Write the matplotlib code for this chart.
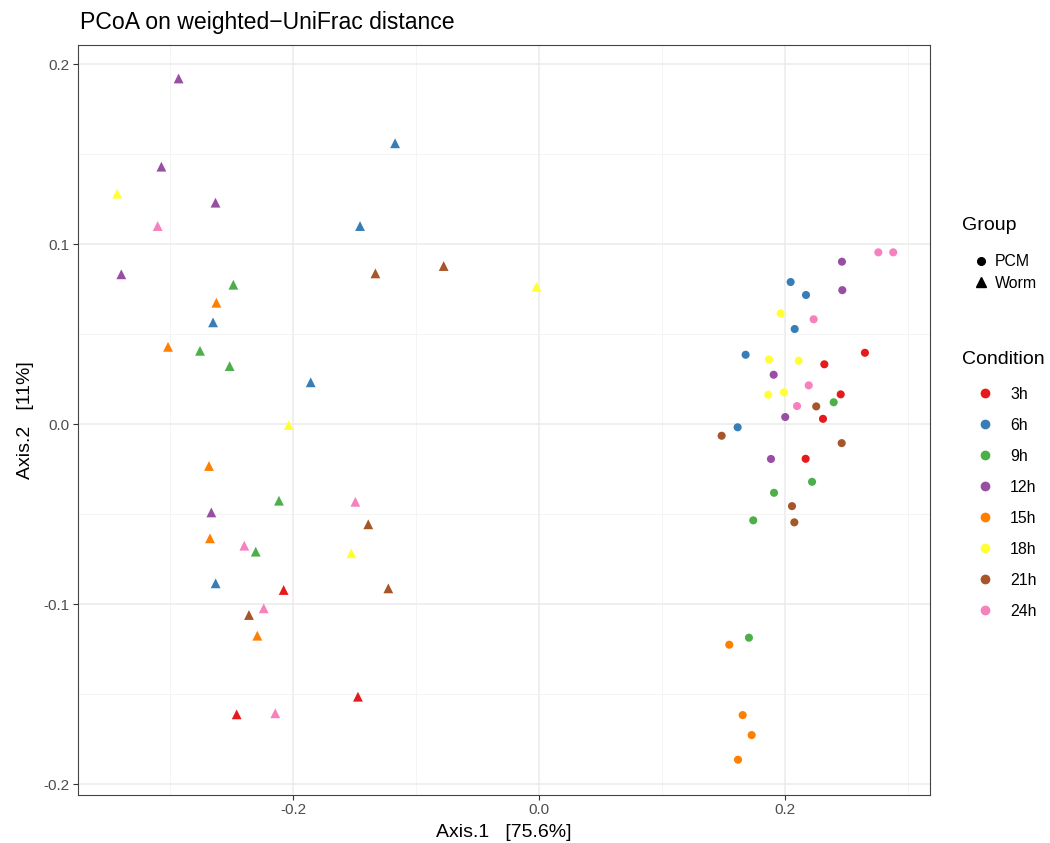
import matplotlib
matplotlib.use("Agg")
import matplotlib.pyplot as plt
from matplotlib.lines import Line2D
from matplotlib.ticker import MultipleLocator

plt.rcParams['font.family'] = ['Liberation Sans', 'DejaVu Sans']
plt.rcParams['axes.unicode_minus'] = False

conditions = ["3h", "6h", "9h", "12h", "15h", "18h", "21h", "24h"]
palette = ["#E41A1C", "#377EB8", "#4DAF4A", "#984EA3", "#FF7F00", "#FFFF33", "#A65628", "#F781BF"]

# Worm samples (triangles)
worm_x = [-0.293, -0.117, -0.307, -0.343, -0.263, -0.310, -0.1455, -0.3396, -0.133, -0.0775,
          -0.002, -0.2485, -0.2623, -0.265, -0.3016, -0.2756, -0.2515, -0.1856, -0.2035, -0.2683,
          -0.2114, -0.1493, -0.2664, -0.1388, -0.2675, -0.2396, -0.2303, -0.1526, -0.2629, -0.1225,
          -0.2076, -0.2238, -0.2358, -0.229, -0.1472, -0.2458, -0.2144]
worm_y = [0.192, 0.156, 0.143, 0.128, 0.123, 0.110, 0.110, 0.0832, 0.0837, 0.0878,
          0.0763, 0.0774, 0.0674, 0.0565, 0.0429, 0.0407, 0.0322, 0.0232, -0.0006, -0.0233,
          -0.0426, -0.0432, -0.0491, -0.0557, -0.0635, -0.0676, -0.0709, -0.0718, -0.0885, -0.0913,
          -0.0922, -0.1024, -0.1061, -0.1176, -0.1515, -0.1613, -0.1607]
worm_cond = ["12h", "6h", "12h", "18h", "12h", "24h", "6h", "12h", "21h", "21h",
             "18h", "9h", "15h", "6h", "15h", "9h", "9h", "6h", "18h", "15h",
             "9h", "24h", "12h", "21h", "15h", "24h", "9h", "18h", "6h", "21h",
             "3h", "24h", "21h", "15h", "3h", "3h", "24h"]

# PCM samples (circles)
pcm_x = [0.2759, 0.2880, 0.2463, 0.2046, 0.2171, 0.2466, 0.1965, 0.2233, 0.2079, 0.1680,
         0.2650, 0.1870, 0.2111, 0.2320, 0.1908, 0.2193, 0.1864, 0.1992, 0.2453, 0.2396,
         0.2098, 0.2254, 0.2002, 0.2309, 0.1615, 0.1485, 0.2461, 0.1886, 0.2168, 0.2220,
         0.1911, 0.2057, 0.1742, 0.2076, 0.1707, 0.1547, 0.1656, 0.1729, 0.1618]
pcm_y = [0.0954, 0.0954, 0.0902, 0.0789, 0.0717, 0.0744, 0.0615, 0.0582, 0.0528, 0.0385,
         0.0396, 0.0359, 0.0352, 0.0332, 0.0274, 0.0215, 0.0163, 0.0176, 0.0165, 0.0121,
         0.0100, 0.0098, 0.0039, 0.0029, -0.0018, -0.0065, -0.0106, -0.0194, -0.0193, -0.0321,
         -0.0382, -0.0456, -0.0535, -0.0546, -0.1187, -0.1226, -0.1617, -0.1728, -0.1865]
pcm_cond = ["24h", "24h", "12h", "6h", "6h", "12h", "18h", "24h", "6h", "6h",
            "3h", "18h", "18h", "3h", "12h", "24h", "18h", "18h", "3h", "9h",
            "24h", "21h", "12h", "3h", "6h", "21h", "21h", "12h", "3h", "9h",
            "9h", "21h", "9h", "21h", "9h", "15h", "15h", "15h", "15h"]

x_label = "Axis.1   [75.6%]"
y_label = "Axis.2   [11%]"
title = "PCoA on weighted\u2212UniFrac distance"

cmap = dict(zip(conditions, palette))

W, H = 1050, 843
fig = plt.figure(figsize=(W / 100, H / 100), dpi=100)
L, R, T, B = 78, 930, 45, 795
ax = fig.add_axes([L / W, 1 - B / H, (R - L) / W, (B - T) / H])

ax.scatter(pcm_x, pcm_y, c=[cmap[c] for c in pcm_cond], marker="o", s=34,
           edgecolors="none", zorder=3)
ax.scatter(worm_x, worm_y, c=[cmap[c] for c in worm_cond], marker="^", s=50,
           edgecolors="none", zorder=3)

ax.set_xlim(-0.3748, 0.3179)
ax.set_ylim(-0.2061, 0.2106)
ax.xaxis.set_major_locator(MultipleLocator(0.2))
ax.xaxis.set_minor_locator(MultipleLocator(0.1))
ax.yaxis.set_major_locator(MultipleLocator(0.1))
ax.yaxis.set_minor_locator(MultipleLocator(0.05))
ax.xaxis.set_major_formatter(matplotlib.ticker.FuncFormatter(lambda v, p: f"{v:.1f}"))
ax.yaxis.set_major_formatter(matplotlib.ticker.FuncFormatter(lambda v, p: f"{v:.1f}"))
ax.grid(which="major", color="#EBEBEB", linewidth=1.1, zorder=0)
ax.grid(which="minor", color="#F2F2F2", linewidth=0.6, zorder=0)
ax.set_axisbelow(True)
ax.tick_params(which="major", length=3.6, width=0.8, color="#333333",
               labelsize=11, labelcolor="#4D4D4D", pad=2.5)
ax.tick_params(which="minor", length=0)
for s in ax.spines.values():
    s.set_color("#444444")
    s.set_linewidth(0.8)

ax.set_xlabel(x_label, fontsize=14, labelpad=5)
ax.set_ylabel(y_label, fontsize=14, labelpad=7)
fig.text(80 / W, 1 - 22 / H, title, fontsize=16.6, ha="left", va="center")

# Legends
lab_fs = 11.4
grp_handles = [Line2D([], [], marker="o", color="black", linestyle="none", markersize=5.5),
               Line2D([], [], marker="^", color="black", linestyle="none", markersize=6.5)]
leg1 = fig.legend(grp_handles, ["PCM", "Worm"], loc="upper left",
                  bbox_to_anchor=(962 / W, 1 - 246.5 / H), frameon=False, borderpad=0,
                  fontsize=lab_fs, handlelength=1.45, handletextpad=0.1, labelspacing=0.39)
cond_handles = [Line2D([], [], marker="o", color=cmap[c], linestyle="none", markersize=6)
                for c in conditions]
leg2 = fig.legend(cond_handles, conditions, loc="upper left",
                  bbox_to_anchor=(962 / W, 1 - 378.7 / H), frameon=False, borderpad=0,
                  fontsize=lab_fs, handlelength=1.9, handletextpad=0.63, labelspacing=1.01)
fig.text(962 / W, 1 - 226 / H, "Group", fontsize=14, ha="left", va="center")
fig.text(962 / W, 1 - 360 / H, "Condition", fontsize=14, ha="left", va="center")

fig.savefig("out.png", dpi=100)
